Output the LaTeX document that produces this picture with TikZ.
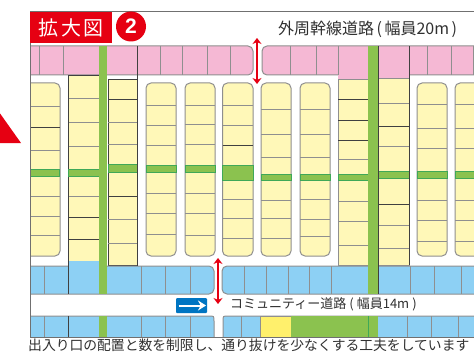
\documentclass[tikz,border=0pt]{standalone}
\usepackage{fontspec}
\setmainfont{Noto Sans CJK JP}
\newfontfamily\digitfont{Liberation Sans}
\usetikzlibrary{arrows.meta}
\definecolor{lotyellow}{HTML}{FFF8B8}
\definecolor{lotpink}{HTML}{F5B8D4}
\definecolor{lotblue}{HTML}{8DD0F4}
\definecolor{lotgreen}{HTML}{8BC24F}
\definecolor{bandline}{HTML}{3FA858}
\definecolor{keyred}{HTML}{E60012}
\definecolor{signblue}{HTML}{0075C2}
\definecolor{divgrey}{HTML}{8F8F8F}
\definecolor{framegrey}{HTML}{707070}
\definecolor{txtgrey}{HTML}{303030}
\definecolor{specialyellow}{HTML}{FFF06C}
\tikzset{
  x=1pt,y=-1pt,
  yellowlot/.style={fill=lotyellow,draw=divgrey,line width=1pt},
  squarelot/.style={fill=lotyellow,draw=black!75,line width=.7pt},
  roundlot/.style={yellowlot,rounded corners=5pt},
  pinklot/.style={fill=lotpink,draw=divgrey,line width=1pt,rounded corners=5pt},
  bluelot/.style={fill=lotblue,draw=divgrey,line width=1pt,rounded corners=5pt},
  divider/.style={draw=divgrey,line width=1pt},
  blackdivider/.style={draw=black!75,line width=.7pt},
  edgeline/.style={draw=framegrey,line width=1pt},
  bandbar/.style={fill=lotgreen,draw=bandline,line width=.7pt},
  redarrow/.style={draw=keyred,line width=2.3pt,{Stealth[length=6pt,width=9pt]}-{Stealth[length=6pt,width=9pt]}},
  roadlabel/.style={anchor=west,inner sep=0pt,text=txtgrey},
}
\newcommand{\lotcol}[7]{% style, x1, x2, y1, y2, dividers, band
  \draw[#1] (#2,#4) rectangle (#3,#5);
  \foreach \yy in {#6} \draw[divider] (#2,\yy) -- (#3,\yy);
  \foreach \ya/\yb in {#7} \draw[bandbar] (#2,\ya) rectangle (#3,\yb);
}
\newcommand{\blackdivs}[3]{\foreach \yy in {#3} \draw[blackdivider] (#1,\yy) -- (#2,\yy);}
\newcommand{\vdivs}[3]{\foreach \xx in {#3} \draw[divider] (\xx,#1) -- (\xx,#2);}
\begin{document}
\begin{tikzpicture}
\useasboundingbox (0,0) rectangle (474,353);
\clip (0,0) rectangle (474,353);
\fill[white] (0,0) rectangle (474,353);
% pointer triangle
\fill[keyred] (-1,112) -- (21,143) -- (-1,143) -- cycle;
% pink band
\path[pinklot] (30,46) -- (253,46) -- (253,75) -- (30,75);
\path[pinklot] (480,46) -- (262,46) -- (262,75) -- (480,75);
\fill[lotpink] (338,70) rectangle (409,80);
\vdivs{46}{75}{39,63,137,160,182,207,230,290,316,338,427,451,473}
% yellow columns
\path[fill=lotyellow,draw=divgrey,line width=1pt,rounded corners=5pt] (30,83) -- (60,83) -- (60,256) -- (30,256);
\lotcol{draw=none}{30.5}{59.5}{84}{255}{106,150,196,216,235}{169/176}
\blackdivs{30}{60}{127}
\lotcol{squarelot}{68.5}{99}{75}{261}{98,122,146,196}{169/176}
\blackdivs{68.5}{99}{217,239}
\lotcol{squarelot}{108}{137}{79}{265}{122,144,219,243}{164/172}
\blackdivs{108}{137}{99,196}
\lotcol{roundlot}{146}{176}{83}{256}{105,125,145,193,213,234}{165/172}
\lotcol{roundlot}{185}{215}{83}{256}{105,124,144,193,213,235}{165/172}
\lotcol{roundlot}{222.5}{253}{83}{256}{105,125,199,218,238}{165/180}
\blackdivs{222.5}{253}{145}
\lotcol{roundlot}{261}{291}{83}{256}{109,134,157,200,218,238}{174/180}
\lotcol{roundlot}{300}{330}{83}{256}{109,134,157,199,219,236}{174/180}
\lotcol{yellowlot}{338}{368}{80}{265}{159,201,221,245}{174/180}
\blackdivs{338}{368}{99,120,140}
\lotcol{yellowlot}{378}{409}{79}{265}{103,146,225,248}{171/178}
\blackdivs{378}{409}{126,204}
\lotcol{roundlot}{417}{447}{83}{256}{104,128,148,200,220,241}{171/178}
\lotcol{roundlot}{455}{490}{83}{256}{104,128,148,200,220,241}{171/178}
% blue upper band
\path[bluelot] (30,266) -- (214,266) -- (214,294) -- (30,294);
\path[bluelot] (480,266) -- (222,266) -- (222,294) -- (480,294);
\vdivs{266}{294}{44,141,165,190,244,266,288,309,331,410,434,461}
\fill[lotblue] (69,261.4) rectangle (98.6,267);
\draw[blackdivider] (68.5,261) -- (68.5,294);
% blue lower band
\fill[lotblue] (30,316) -- (209,316) .. controls (214,316) .. (214,321) -- (214,337) -- (30,337) -- cycle;
\draw[divider] (30,316) -- (209,316) .. controls (214,316) .. (214,321) -- (214,337);
\fill[lotblue] (480,316) -- (228,316) .. controls (223,316) .. (223,321) -- (223,337) -- (480,337) -- cycle;
\draw[divider] (480,316) -- (228,316) .. controls (223,316) .. (223,321) -- (223,337);
\vdivs{316}{337}{44,141,165,190,241,407,431,458}
\draw[blackdivider] (68.5,316) -- (68.5,337);
\draw[fill=specialyellow,draw=divgrey,line width=.7pt] (260,316) rectangle (291,337);
\fill[lotgreen] (291,316) rectangle (368,337);
% green strips
\fill[lotgreen] (99,46) rectangle (107,294);
\fill[lotgreen] (99,316) rectangle (107,337);
\fill[lotgreen] (368,46) rectangle (378,294);
\fill[lotgreen] (368,316) rectangle (378,337);
\draw[bandline,line width=.6pt] (368,316) -- (368,337);
\draw[black!75,line width=.6pt] (378,46) -- (378,294);
\draw[black!75,line width=.6pt] (137,46) -- (137,266);
\draw[black!75,line width=.6pt] (409,46) -- (409,265);
% frame
\draw[edgeline] (30,12) -- (480,12);
\draw[edgeline] (480,337) -- (30,337) -- (30,12);
% heading
\node[fill=keyred,minimum width=82pt,minimum height=31pt,inner sep=0pt,anchor=north west,text=white,font=\fontsize{20}{20}\selectfont] (title) at (30,12) {拡\hspace{2.5pt}大\hspace{2.5pt}図};
\node[circle,fill=keyred,minimum size=30pt,inner sep=0pt,text=white,font=\fontsize{21}{21}\digitfont\bfseries] (num) at (131,26.5) {2};
% road labels
\node[roadlabel,font=\fontsize{16}{16}\selectfont] (outer) at (278,29) {外周幹線道路\hspace{2.5pt}(\hspace{2.5pt}幅員20m\hspace{2.5pt})};
\node[roadlabel,font=\fontsize{13}{13}\selectfont] (community) at (230,304.5) {コミュニティー道路\hspace{3pt}(\hspace{3pt}幅員14m\hspace{3pt})};
\node[roadlabel,font=\fontsize{13.8}{13.8}\selectfont] (note) at (28,345.5) {出入り口の配置と数を制限し、通り抜けを少なくする工夫をしています};
% red arrows
\coordinate (outerA) at (257,38);
\coordinate (outerB) at (257,84);
\coordinate (commA) at (218,258);
\coordinate (commB) at (218,304);
\draw[redarrow] (outerA) -- (outerB);
\draw[redarrow] (commA) -- (commB);
% direction sign
\node[fill=signblue,rounded corners=1pt,minimum width=31pt,minimum height=15pt,inner sep=0pt] (sign) at (191.5,305.5) {};
\coordinate (signA) at (178.5,305.5);
\coordinate (signB) at (206,305.5);
\draw[white,line width=2pt,-{Stealth[length=8pt,width=10pt]}] (signA) -- (signB);
\end{tikzpicture}
\end{document}
